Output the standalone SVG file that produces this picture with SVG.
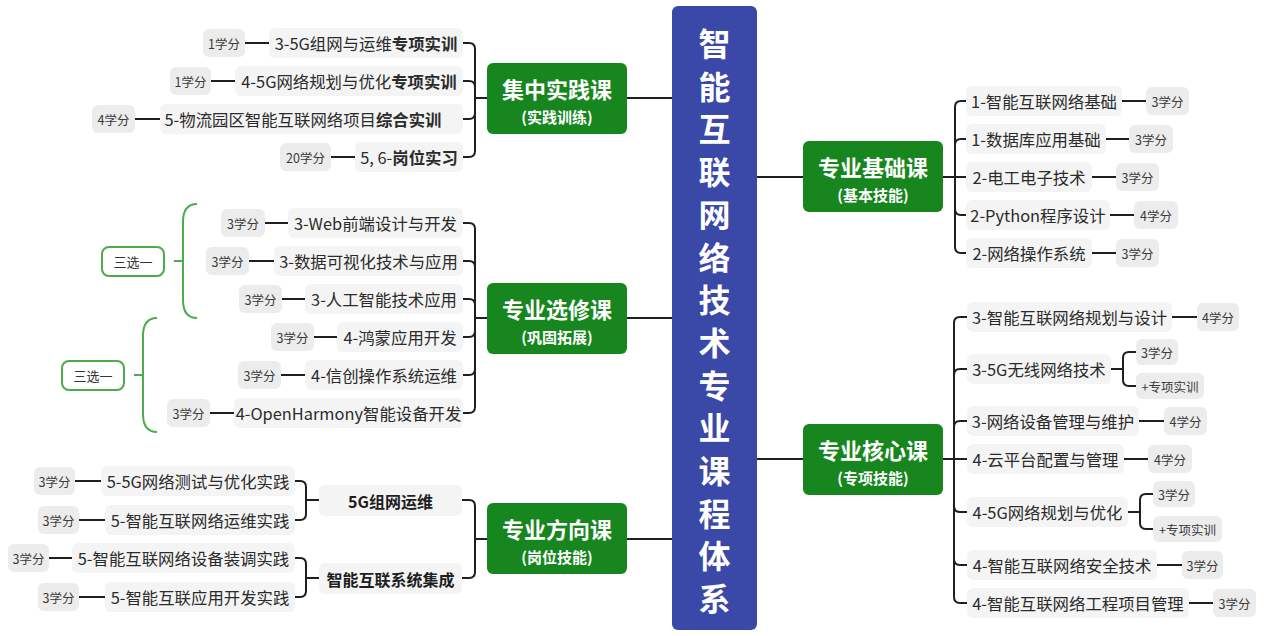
<svg xmlns="http://www.w3.org/2000/svg" width="1268" height="636" viewBox="0 0 1268 636">
<style>
text{font-family:"Noto Sans CJK SC","Noto Sans",sans-serif;dominant-baseline:central}
.leaf rect{fill:#f4f4f4}
.leaf text{font-size:16.4px;fill:#2b2b2b;text-anchor:middle}
.pill rect{fill:#ececec}
.pill text{font-size:12.5px;fill:#3a3a3a;text-anchor:middle}
.cat rect{fill:#17861e}
.cat text{fill:#fff;font-weight:bold;text-anchor:middle}
.cat .t1{font-size:22px}
.cat .t2{font-size:15px}
.sub rect{fill:#f4f4f4}
.sub text{font-size:16px;font-weight:bold;fill:#1e1e1e;text-anchor:middle}
.sum rect{fill:#fff;stroke:#4cab4f;stroke-width:2}
.sum text{font-size:13px;fill:#333;text-anchor:middle}
.conn path{fill:none;stroke:#1f1f1f;stroke-width:2}
.brace path{fill:none;stroke:#4cab4f;stroke-width:2}
</style>

<g id="connectors" class="conn">
<path d="M627 98H672M627 318H672M627 539H672M757 177H803M757 459H803"/>
<path d="M487 98H475M475 98V49Q475 43 469 43H463M475 98V87Q475 81 469 81H463M475 98V113Q475 119 469 119H463M475 98V151Q475 157 469 157H463"/>
<path d="M245 43H269M211 81H235M135 119H160M331 157H355"/>
<path d="M487 318H475M475 318V229Q475 223 469 223H463M475 318V267Q475 261 469 261H463M475 318V305Q475 299 469 299H463M475 318V331Q475 337 469 337H463M475 318V369Q475 375 469 375H463M475 318V407Q475 413 469 413H463"/>
<path d="M265 223H288M249 261H274M282 299H305M314 337H337M281 375H305M210 413H234"/>
<path d="M487 539H475M475 539V506Q475 500 469 500H462M475 539V572Q475 578 469 578H462"/>
<path d="M319 500H306M306 500V487Q306 481 300 481H295M306 500V514Q306 520 300 520H295"/>
<path d="M319 578H306M306 578V564Q306 558 300 558H295M306 578V591Q306 597 300 597H295"/>
<path d="M75 481H101M79 520H105M49 558H72M79 597H105"/>
<path d="M943 177H955M955 177V107Q955 101 961 101H966M955 177V145Q955 139 961 139H966M955 177H966M955 177V209Q955 215 961 215H966M955 177V247Q955 253 961 253H966"/>
<path d="M1122 101H1146M1106 139H1129M1092 177H1116M1110 215H1134M1092 253H1116"/>
<path d="M943 459H954M954 459V323Q954 317 960 317H967M954 459V375Q954 369 960 369H967M954 459V427Q954 421 960 421H967M954 459H967M954 459V506Q954 512 960 512H967M954 459V559Q954 565 960 565H967M954 459V597Q954 603 960 603H967"/>
<path d="M1172 317H1197M1139 421H1164M1124 459H1148M1157 565H1182M1189 603H1213"/>
<path d="M1111 369H1123M1123 369V358Q1123 352 1129 352H1136M1123 369V380Q1123 386 1129 386H1136"/>
<path d="M1128 512H1140M1140 512V500Q1140 494 1146 494H1153M1140 512V523Q1140 529 1146 529H1153"/>
</g>

<g id="braces" class="brace">
<path d="M197 204C188 204 183 209 183 222V300C183 313 188 318 197 318M174 261H183"/>
<path d="M157 318C148 318 143 323 143 336V414C143 427 148 432 157 432M134 375H143"/>
</g>

<g id="title">
<rect x="672" y="6" width="85" height="624" rx="6" fill="#3a48a8"/>
<g fill="#fff" font-size="32" font-weight="bold" text-anchor="middle">
<text x="714.5" y="42">智</text>
<text x="714.5" y="84.7">能</text>
<text x="714.5" y="127.4">互</text>
<text x="714.5" y="170.1">联</text>
<text x="714.5" y="212.8">网</text>
<text x="714.5" y="255.5">络</text>
<text x="714.5" y="298.2">技</text>
<text x="714.5" y="340.9">术</text>
<text x="714.5" y="383.6">专</text>
<text x="714.5" y="426.3">业</text>
<text x="714.5" y="469">课</text>
<text x="714.5" y="511.7">程</text>
<text x="714.5" y="554.4">体</text>
<text x="714.5" y="597.1">系</text>
</g>
</g>

<g id="cat-jizhong" class="cat"><rect x="487" y="63" width="140" height="71" rx="6"/><text class="t1" x="557" y="88">集中实践课</text><text class="t2" x="557" y="116">(实践训练)</text></g>
<g id="cat-xuanxiu" class="cat"><rect x="487" y="283" width="140" height="71" rx="6"/><text class="t1" x="557" y="308">专业选修课</text><text class="t2" x="557" y="336">(巩固拓展)</text></g>
<g id="cat-fangxiang" class="cat"><rect x="487" y="503" width="140" height="71" rx="6"/><text class="t1" x="557" y="528">专业方向课</text><text class="t2" x="557" y="556">(岗位技能)</text></g>
<g id="cat-jichu" class="cat"><rect x="803" y="141" width="140" height="71" rx="6"/><text class="t1" x="873" y="166">专业基础课</text><text class="t2" x="873" y="194">(基本技能)</text></g>
<g id="cat-hexin" class="cat"><rect x="803" y="424" width="140" height="71" rx="6"/><text class="t1" x="873" y="449">专业核心课</text><text class="t2" x="873" y="477">(专项技能)</text></g>

<g id="jz1" class="leaf"><rect x="269" y="28" width="194" height="30" rx="6"/><text x="366" y="43">3-5G组网与运维<tspan font-weight="bold">专项实训</tspan></text></g>
<g id="jz1c" class="pill"><rect x="203" y="29" width="42" height="28" rx="6"/><text x="224" y="43">1学分</text></g>
<g id="jz2" class="leaf"><rect x="235" y="66" width="228" height="30" rx="6"/><text x="349" y="81">4-5G网络规划与优化<tspan font-weight="bold">专项实训</tspan></text></g>
<g id="jz2c" class="pill"><rect x="170" y="67" width="41" height="28" rx="6"/><text x="190.5" y="81">1学分</text></g>
<g id="jz3" class="leaf"><rect x="160" y="104" width="303" height="30" rx="6"/><text x="303" y="119">5-物流园区智能互联网络项目<tspan font-weight="bold">综合实训</tspan></text></g>
<g id="jz3c" class="pill"><rect x="92" y="105" width="43" height="28" rx="6"/><text x="113.5" y="119">4学分</text></g>
<g id="jz4" class="leaf"><rect x="355" y="142" width="108" height="30" rx="6"/><text x="409" y="157">5, 6-<tspan font-weight="bold">岗位实习</tspan></text></g>
<g id="jz4c" class="pill"><rect x="280" y="143" width="51" height="28" rx="6"/><text x="305.5" y="157">20学分</text></g>

<g id="xx1" class="leaf"><rect x="288" y="208" width="175" height="30" rx="6"/><text x="375.5" y="223">3-Web前端设计与开发</text></g>
<g id="xx1c" class="pill"><rect x="221" y="209" width="44" height="28" rx="6"/><text x="243" y="223">3学分</text></g>
<g id="xx2" class="leaf"><rect x="274" y="246" width="189" height="30" rx="6"/><text x="368.5" y="261">3-数据可视化技术与应用</text></g>
<g id="xx2c" class="pill"><rect x="206" y="247" width="43" height="28" rx="6"/><text x="227.5" y="261">3学分</text></g>
<g id="xx3" class="leaf"><rect x="305" y="284" width="158" height="30" rx="6"/><text x="384" y="299">3-人工智能技术应用</text></g>
<g id="xx3c" class="pill"><rect x="239" y="285" width="43" height="28" rx="6"/><text x="260.5" y="299">3学分</text></g>
<g id="xx4" class="leaf"><rect x="337" y="322" width="126" height="30" rx="6"/><text x="400" y="337">4-鸿蒙应用开发</text></g>
<g id="xx4c" class="pill"><rect x="271" y="323" width="43" height="28" rx="6"/><text x="292.5" y="337">3学分</text></g>
<g id="xx5" class="leaf"><rect x="305" y="360" width="158" height="30" rx="6"/><text x="384" y="375">4-信创操作系统运维</text></g>
<g id="xx5c" class="pill"><rect x="238" y="361" width="43" height="28" rx="6"/><text x="259.5" y="375">3学分</text></g>
<g id="xx6" class="leaf"><rect x="234" y="398" width="229" height="30" rx="6"/><text x="348.5" y="413">4-OpenHarmony智能设备开发</text></g>
<g id="xx6c" class="pill"><rect x="167" y="399" width="43" height="28" rx="6"/><text x="188.5" y="413">3学分</text></g>

<g id="sum1" class="sum"><rect x="102" y="247" width="62" height="29" rx="7"/><text x="133" y="261.5">三选一</text></g>
<g id="sum2" class="sum"><rect x="62" y="361" width="62" height="29" rx="7"/><text x="93" y="375.5">三选一</text></g>

<g id="fx-a" class="sub"><rect x="319" y="485" width="143" height="31" rx="6"/><text x="390.5" y="500.5">5G组网运维</text></g>
<g id="fx-b" class="sub"><rect x="319" y="563" width="143" height="31" rx="6"/><text x="390.5" y="578.5">智能互联系统集成</text></g>
<g id="fxa1" class="leaf"><rect x="101" y="466" width="194" height="30" rx="6"/><text x="198" y="481">5-5G网络测试与优化实践</text></g>
<g id="fxa1c" class="pill"><rect x="34" y="467" width="41" height="28" rx="6"/><text x="54.5" y="481">3学分</text></g>
<g id="fxa2" class="leaf"><rect x="105" y="505" width="190" height="30" rx="6"/><text x="200" y="520">5-智能互联网络运维实践</text></g>
<g id="fxa2c" class="pill"><rect x="38" y="506" width="41" height="28" rx="6"/><text x="58.5" y="520">3学分</text></g>
<g id="fxb1" class="leaf"><rect x="72" y="543" width="223" height="30" rx="6"/><text x="183.5" y="558">5-智能互联网络设备装调实践</text></g>
<g id="fxb1c" class="pill"><rect x="8" y="544" width="41" height="28" rx="6"/><text x="28.5" y="558">3学分</text></g>
<g id="fxb2" class="leaf"><rect x="105" y="582" width="190" height="30" rx="6"/><text x="200" y="597">5-智能互联应用开发实践</text></g>
<g id="fxb2c" class="pill"><rect x="38" y="583" width="41" height="28" rx="6"/><text x="58.5" y="597">3学分</text></g>

<g id="jc1" class="leaf"><rect x="966" y="86" width="156" height="30" rx="6"/><text x="1044" y="101">1-智能互联网络基础</text></g>
<g id="jc1c" class="pill"><rect x="1146" y="87" width="43" height="28" rx="6"/><text x="1167.5" y="101">3学分</text></g>
<g id="jc2" class="leaf"><rect x="966" y="124" width="140" height="30" rx="6"/><text x="1036" y="139">1-数据库应用基础</text></g>
<g id="jc2c" class="pill"><rect x="1129" y="125" width="44" height="28" rx="6"/><text x="1151" y="139">3学分</text></g>
<g id="jc3" class="leaf"><rect x="966" y="162" width="126" height="30" rx="6"/><text x="1029" y="177">2-电工电子技术</text></g>
<g id="jc3c" class="pill"><rect x="1116" y="163" width="43" height="28" rx="6"/><text x="1137.5" y="177">3学分</text></g>
<g id="jc4" class="leaf"><rect x="966" y="200" width="144" height="30" rx="6"/><text x="1038" y="215">2-Python程序设计</text></g>
<g id="jc4c" class="pill"><rect x="1134" y="201" width="44" height="28" rx="6"/><text x="1156" y="215">4学分</text></g>
<g id="jc5" class="leaf"><rect x="966" y="238" width="126" height="30" rx="6"/><text x="1029" y="253">2-网络操作系统</text></g>
<g id="jc5c" class="pill"><rect x="1116" y="239" width="43" height="28" rx="6"/><text x="1137.5" y="253">3学分</text></g>

<g id="hx1" class="leaf"><rect x="967" y="302" width="205" height="30" rx="6"/><text x="1069.5" y="317">3-智能互联网络规划与设计</text></g>
<g id="hx1c" class="pill"><rect x="1197" y="303" width="42" height="28" rx="6"/><text x="1218" y="317">4学分</text></g>
<g id="hx2" class="leaf"><rect x="967" y="354" width="144" height="30" rx="6"/><text x="1039" y="369">3-5G无线网络技术</text></g>
<g id="hx2a" class="pill"><rect x="1136" y="339" width="42" height="26" rx="6"/><text x="1157" y="352">3学分</text></g>
<g id="hx2b" class="pill"><rect x="1136" y="373" width="68" height="26" rx="6"/><text x="1170" y="386">+专项实训</text></g>
<g id="hx3" class="leaf"><rect x="967" y="406" width="172" height="30" rx="6"/><text x="1053" y="421">3-网络设备管理与维护</text></g>
<g id="hx3c" class="pill"><rect x="1164" y="407" width="43" height="28" rx="6"/><text x="1185.5" y="421">4学分</text></g>
<g id="hx4" class="leaf"><rect x="967" y="444" width="157" height="30" rx="6"/><text x="1045.5" y="459">4-云平台配置与管理</text></g>
<g id="hx4c" class="pill"><rect x="1148" y="445" width="44" height="28" rx="6"/><text x="1170" y="459">4学分</text></g>
<g id="hx5" class="leaf"><rect x="967" y="497" width="161" height="30" rx="6"/><text x="1047.5" y="512">4-5G网络规划与优化</text></g>
<g id="hx5a" class="pill"><rect x="1153" y="481" width="42" height="26" rx="6"/><text x="1174" y="494">3学分</text></g>
<g id="hx5b" class="pill"><rect x="1153" y="516" width="69" height="26" rx="6"/><text x="1187.5" y="529">+专项实训</text></g>
<g id="hx6" class="leaf"><rect x="967" y="550" width="190" height="30" rx="6"/><text x="1062" y="565">4-智能互联网络安全技术</text></g>
<g id="hx6c" class="pill"><rect x="1182" y="551" width="41" height="28" rx="6"/><text x="1202.5" y="565">3学分</text></g>
<g id="hx7" class="leaf"><rect x="967" y="588" width="222" height="30" rx="6"/><text x="1078" y="603">4-智能互联网络工程项目管理</text></g>
<g id="hx7c" class="pill"><rect x="1213" y="589" width="43" height="28" rx="6"/><text x="1234.5" y="603">3学分</text></g>
</svg>
